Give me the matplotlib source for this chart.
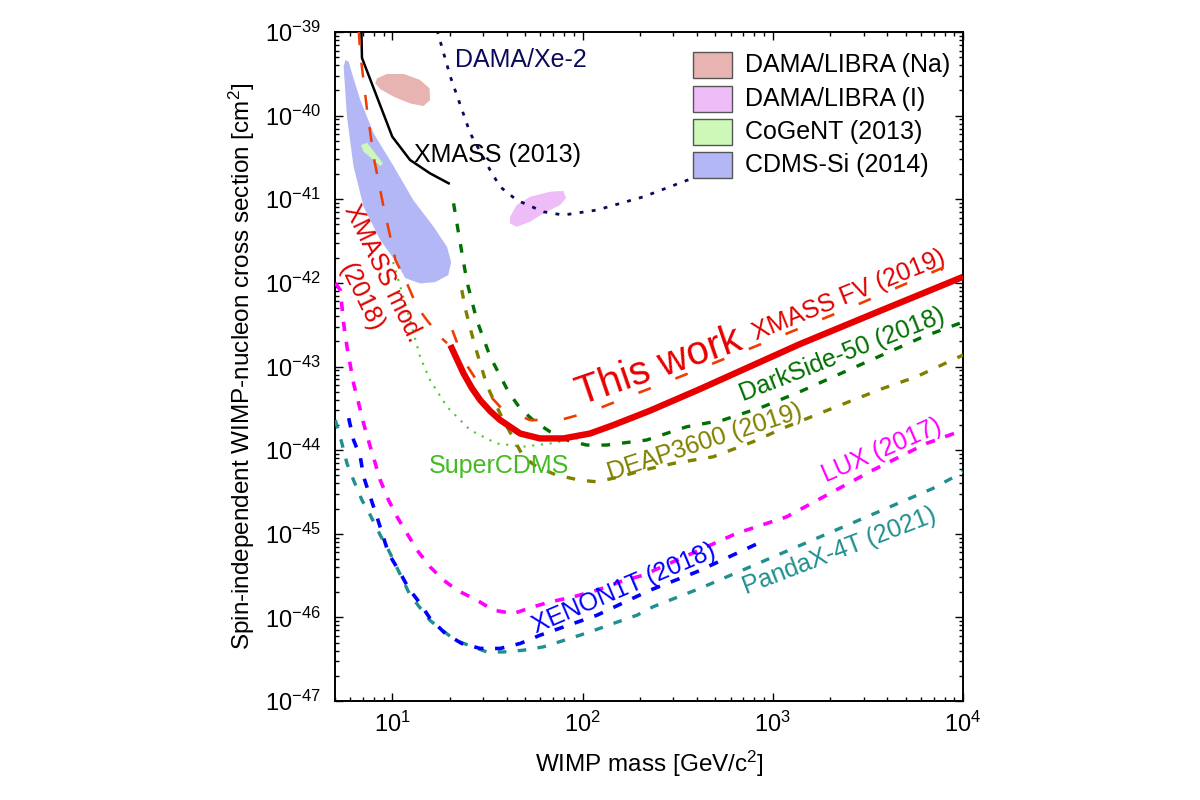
import matplotlib
matplotlib.use("Agg")
import matplotlib.pyplot as plt
from matplotlib.patches import Rectangle
from matplotlib.ticker import FixedLocator, LogLocator, NullFormatter

plt.rcParams['font.family'] = ['Liberation Sans', 'DejaVu Sans']
plt.rcParams['mathtext.fontset'] = 'custom'
plt.rcParams['mathtext.rm'] = 'Liberation Sans'
plt.rcParams['mathtext.it'] = 'Liberation Sans:italic'
plt.rcParams['mathtext.bf'] = 'Liberation Sans:bold'

# ---------------- data (mass in GeV/c^2, cross section in cm^2) ----------------
this_work_m = [20.2, 23.7, 26.2, 29.0, 32.7, 36.9, 47.0, 59.8, 79.3, 109.5, 145, 226,
               414, 1386, 3645, 10000]
this_work_s = [1.80e-43, 8.26e-44, 5.52e-44, 3.96e-44, 2.93e-44, 2.29e-44, 1.58e-44,
               1.38e-44, 1.38e-44, 1.58e-44, 1.99e-44, 2.96e-44, 5.37e-44, 1.85e-43,
               4.60e-43, 1.18e-42]

xmass_fv_m = [20.7, 23.7, 28.4, 37.6, 53.0, 76.2, 109.5, 157, 325, 927, 2750, 10000]
xmass_fv_s = [2.72e-43, 1.19e-43, 6.28e-44, 3.15e-44, 2.29e-44, 2.29e-44, 2.87e-44,
              3.96e-44, 7.53e-44, 1.97e-43, 5.42e-43, 1.93e-42]

xmass_mod_m = [6.66, 6.79, 7.37, 7.98, 9.0, 10.4, 11.95, 13.5, 15.2, 17.9, 19.4]
xmass_mod_s = [1.05e-39, 5.56e-40, 1.17e-40, 3.22e-41, 8.13e-42, 1.87e-42, 9.86e-43,
               5.18e-43, 3.59e-43, 2.26e-43, 1.90e-43]

xmass13_m = [6.88, 6.93, 10.0, 12.4, 15.8, 19.8]
xmass13_s = [1.05e-39, 4.9e-40, 5.6e-41, 2.95e-41, 2.04e-41, 1.55e-41]

damaxe_m = [17.2, 20.2, 25.7, 32.7, 36.9, 45.1, 62.3, 79.3, 119, 209, 380]
damaxe_s = [1.05e-39, 2.92e-40, 6.14e-41, 2.23e-41, 1.41e-41, 9.77e-42, 7.08e-42,
            6.47e-42, 7.43e-42, 1.07e-41, 1.79e-41]

darkside_m = [21.0, 22.7, 24.7, 27.8, 32.7, 40.8, 47.0, 56.3, 67.5, 82.6, 105, 134,
              217, 352, 548, 889, 1386, 2862, 6150, 10000]
darkside_s = [8.93e-42, 3.10e-42, 1.03e-42, 3.59e-43, 1.31e-43, 4.98e-44, 3.15e-44,
              2.18e-44, 1.66e-44, 1.32e-44, 1.15e-44, 1.15e-44, 1.32e-44, 1.90e-44,
              2.29e-44, 3.30e-44, 4.98e-44, 1.04e-43, 2.26e-43, 3.40e-43]

deap_m = [23.2, 24.2, 25.7, 27.3, 31.4, 34.7, 38.4, 43.3, 48.9, 57.5, 73.2, 97, 119,
          157, 209, 300, 486, 788, 1180, 1765, 2640, 3793, 5680, 10000]
deap_s = [8.2e-43, 4.95e-43, 2.86e-43, 1.72e-43, 6.0e-44, 3.62e-44, 2.29e-44, 1.38e-44,
          8.32e-45, 6.31e-45, 5.02e-45, 4.37e-45, 4.18e-45, 4.80e-45, 5.77e-45, 6.93e-45,
          8.32e-45, 1.26e-44, 1.90e-44, 2.75e-44, 3.96e-44, 5.47e-44, 7.53e-44, 1.37e-43]

supercdms_m = [10.1, 12.4, 14.0, 15.8, 19.4, 25.7, 35.4, 48.9, 67.5, 93.2, 119]
supercdms_s = [1.77e-42, 3.59e-43, 1.31e-43, 6.87e-44, 3.30e-44, 1.73e-44, 1.20e-44,
               1.10e-44, 1.20e-44, 1.38e-44, 1.58e-44]

lux_m = [5.02, 5.33, 5.55, 5.78, 6.26, 6.66, 7.07, 7.66, 8.65, 9.56, 10.6, 11.95, 13.5,
         15.8, 18.6, 21.9, 27.8, 34.0, 43.3, 55.2, 67.5, 89.5, 119, 157, 209, 645, 1180,
         3361, 6410, 10000]
lux_s = [9.95e-43, 8.2e-43, 3.28e-43, 1.72e-43, 6.28e-44, 3.62e-44, 2.08e-44, 1.10e-44,
         4.37e-45, 2.52e-45, 1.59e-45, 1.01e-45, 6.37e-46, 4.02e-46, 2.79e-46, 2.11e-46,
         1.61e-46, 1.22e-46, 1.11e-46, 1.34e-46, 1.53e-46, 1.76e-46, 2.11e-46, 2.66e-46,
         3.20e-46, 1.01e-45, 1.59e-45, 5.77e-45, 1.20e-44, 1.73e-44]

xenon_m = [5.90, 6.26, 6.79, 7.07, 7.66, 8.31, 9.56, 10.8, 12.2, 14.0, 15.8, 19.0, 23.2,
           29.0, 36.9, 47.0, 59.8, 119, 226, 398, 671, 886]
xenon_s = [2.41e-44, 1.32e-44, 8.32e-45, 4.80e-45, 2.76e-45, 1.59e-45, 5.8e-46, 3.67e-46,
           2.22e-46, 1.47e-46, 9.7e-47, 6.41e-47, 4.87e-47, 4.25e-47, 4.25e-47, 4.87e-47,
           6.12e-47, 1.06e-46, 2.11e-46, 3.50e-46, 6.07e-46, 8.15e-46]

pandax_m = [5.02, 5.44, 5.78, 6.26, 6.93, 7.66, 8.65, 9.56, 12.4, 15.8, 21.4, 31.4, 38.4,
            48.9, 62.3, 86.0, 109.5, 145, 193, 235, 414, 6940, 10000]
pandax_s = [2.29e-44, 1.20e-44, 6.93e-45, 4.37e-45, 2.52e-45, 1.67e-45, 9.6e-46, 6.37e-46,
            1.85e-46, 9.18e-47, 5.33e-47, 3.86e-47, 3.86e-47, 4.05e-47, 4.44e-47, 5.6e-47,
            6.71e-47, 8.45e-47, 1.06e-46, 1.34e-46, 2.22e-46, 3.48e-45, 5.46e-45]

# allowed regions (closed contours)
dama_na_m = [8.31, 9.38, 11.5, 14.0, 15.7, 15.8, 14.6, 12.4, 10.2, 8.65, 8.14]
dama_na_s = [2.79e-40, 3.15e-40, 3.15e-40, 2.67e-40, 2.12e-40, 1.54e-40, 1.30e-40,
             1.40e-40, 1.68e-40, 2.07e-40, 2.43e-40]

dama_i_m = [41.6, 45.1, 53.0, 67.5, 79.3, 81.9, 76.2, 62.3, 53.0, 45.1, 41.6]
dama_i_s = [6.18e-42, 8.53e-42, 1.07e-41, 1.23e-41, 1.26e-41, 1.03e-41, 8.53e-42,
            6.78e-42, 5.38e-42, 4.69e-42, 5.15e-42]

cogent_m = [6.85, 7.37, 8.14, 8.94, 8.65, 7.98, 7.07]
cogent_s = [4.45e-41, 4.74e-41, 3.54e-41, 2.69e-41, 2.49e-41, 2.94e-41, 3.70e-41]

cdms_m = [5.67, 5.90, 6.14, 6.79, 7.98, 10.2, 12.9, 16.5, 19.4, 20.4, 19.7, 16.8, 14.0,
          11.7, 10.6, 8.65, 7.07, 6.26, 5.78, 5.55]
cdms_s = [4.63e-40, 4.41e-40, 3.21e-40, 1.54e-40, 6.14e-41, 2.45e-41, 9.77e-42, 4.69e-42,
          2.70e-42, 1.77e-42, 1.24e-42, 1.02e-42, 9.86e-43, 1.14e-42, 1.71e-42, 3.25e-42,
          8.13e-42, 2.45e-41, 9.7e-41, 3.85e-40]

legend_labels = ["DAMA/LIBRA (Na)", "DAMA/LIBRA (I)", "CoGeNT (2013)", "CDMS-Si (2014)"]
legend_colors = ["#e8b4b2", "#eebcf6", "#cdf8b8", "#b4b7f5"]

x_ticks = [1e1, 1e2, 1e3, 1e4]
x_ticklabels = [r"$\mathregular{10^{1}}$", r"$\mathregular{10^{2}}$",
                r"$\mathregular{10^{3}}$", r"$\mathregular{10^{4}}$"]
y_ticks = [1e-47, 1e-46, 1e-45, 1e-44, 1e-43, 1e-42, 1e-41, 1e-40, 1e-39]
y_ticklabels = [r"$\mathregular{10^{-%d}}$" % e for e in range(47, 38, -1)]

# ---------------- figure ----------------
fig = plt.figure(figsize=(12, 8), dpi=100)
ax = fig.add_axes([335 / 1200, 1 - 701 / 800, 628 / 1200, 669 / 800])
ax.set_xscale('log')
ax.set_yscale('log')
ax.set_xlim(5, 1e4)
ax.set_ylim(1e-47, 1e-39)

# regions
ax.fill(cdms_m, cdms_s, color=legend_colors[3], lw=0, zorder=1)
ax.fill(dama_na_m, dama_na_s, color=legend_colors[0], lw=0, zorder=1)
ax.fill(dama_i_m, dama_i_s, color=legend_colors[1], lw=0, zorder=1)
ax.fill(cogent_m, cogent_s, color=legend_colors[2], lw=0, zorder=1)

# curves
ax.plot(supercdms_m, supercdms_s, color='#44cc22', lw=1.5, dashes=(1.0, 3.2), zorder=2)
ax.plot(damaxe_m, damaxe_s, color='#0a0a5a', lw=2.0, dashes=(1.4, 3.0), zorder=2)
ax.plot(xmass13_m, xmass13_s, color='black', lw=1.8, zorder=3)
ax.plot(xmass_mod_m, xmass_mod_s, color='#f03c00', lw=1.8, dashes=(6, 7), zorder=3)
ax.plot(deap_m, deap_s, color='#808000', lw=2.4, dashes=(2.6, 3.6), zorder=3)
ax.plot(darkside_m, darkside_s, color='#007000', lw=2.4, dashes=(2.6, 3.6), zorder=3)
ax.plot(lux_m, lux_s, color='#ff00ff', lw=2.6, dashes=(2.6, 3.0), zorder=3)
ax.plot(pandax_m, pandax_s, color='#1f8f8f', lw=2.4, dashes=(2.6, 3.4), zorder=3)
ax.plot(xenon_m, xenon_s, color='#0000ff', lw=2.6, dashes=(2.6, 3.2), zorder=3)
ax.plot(xmass_fv_m, xmass_fv_s, color='#f03c00', lw=1.9, dashes=(5, 10), zorder=4)
ax.plot(this_work_m, this_work_s, color='#e80000', lw=4.6, solid_capstyle='butt',
        solid_joinstyle='round', zorder=5)

# labels on curves
txt = dict(fontsize=18, rotation_mode='anchor')
ax.text(47.5, 4.6e-40, "DAMA/Xe-2", color='#0a0a5a', ha='center', va='center', **txt)
ax.text(35.6, 3.38e-41, "XMASS (2013)", color='black', ha='center', va='center', **txt)
ax.text(36.5, 6.44e-45, "SuperCDMS", color='#44bb22', ha='center', va='center', **txt)
ax.text(8.97, 1.31e-42, "XMASS mod.", color='#e00000', ha='center', va='center',
        rotation=-64, **txt)
ax.text(6.88, 6.76e-43, "(2018)", color='#e00000', ha='center', va='center',
        rotation=-64, **txt)
ax.text(264.6, 7.46e-44, "This work", color='#e80000', ha='center', va='baseline',
        rotation=19, fontsize=29, rotation_mode='anchor')
ax.text(2598, 5.97e-43, "XMASS FV (2019)", color='#e00000', ha='center', va='baseline',
        rotation=22, **txt)
ax.text(2388, 1.16e-43, "DarkSide-50 (2018)", color='#007000', ha='center', va='baseline',
        rotation=21.5, **txt)
ax.text(450, 1.03e-44, "DEAP3600 (2019)", color='#808000', ha='center', va='baseline',
        rotation=18, **txt)
ax.text(3873, 8.24e-45, "LUX (2017)", color='#ff00ff', ha='center', va='baseline',
        rotation=23.5, **txt)
ax.text(171, 1.85e-46, "XENON1T (2018)", color='#0000ff', ha='center', va='baseline',
        rotation=23, **txt)
ax.text(2301, 5.25e-46, "PandaX-4T (2021)", color='#1f8f8f', ha='center', va='baseline',
        rotation=21, **txt)

# legend (drawn manually in axes fraction)
box_x, box_w, box_h = 0.570, 0.0621, 0.0389
row_y = [0.9507, 0.8999, 0.8505, 0.8012]
for lab, col, yc in zip(legend_labels, legend_colors, row_y):
    ax.add_patch(Rectangle((box_x, yc - box_h / 2), box_w, box_h, transform=ax.transAxes,
                           facecolor=col, edgecolor='#555555', lw=1.0, zorder=6))
    ax.text(0.653, yc, lab, transform=ax.transAxes, fontsize=18, ha='left',
            va='center', color='black', zorder=6)

# axes styling
ax.xaxis.set_major_locator(FixedLocator(x_ticks))
ax.set_xticklabels(x_ticklabels)
ax.yaxis.set_major_locator(FixedLocator(y_ticks))
ax.set_yticklabels(y_ticklabels)
ax.xaxis.set_minor_locator(LogLocator(base=10, subs=range(2, 10), numticks=20))
ax.yaxis.set_minor_locator(LogLocator(base=10, subs=range(2, 10), numticks=20))
ax.xaxis.set_minor_formatter(NullFormatter())
ax.yaxis.set_minor_formatter(NullFormatter())
ax.tick_params(which='both', direction='in', top=True, right=True, width=1.0)
ax.tick_params(which='major', length=6, labelsize=17)
ax.tick_params(which='minor', length=3)
ax.tick_params(axis='y', which='major', pad=10)
ax.tick_params(axis='x', which='major', pad=8)
for sp in ax.spines.values():
    sp.set_linewidth(1.4)

ax.set_xlabel(r"WIMP mass [GeV/c$^{\mathregular{2}}$]", fontsize=17.5, labelpad=8)
ax.set_ylabel(r"Spin-independent WIMP-nucleon cross section [cm$^{\mathregular{2}}$]",
              fontsize=17.5, labelpad=6)

fig.savefig("out.png", dpi=100)
